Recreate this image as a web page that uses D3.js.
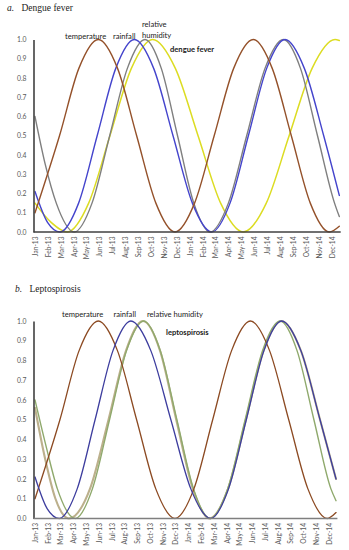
<!DOCTYPE html>
<html><head><meta charset="utf-8">
<script src="https://cdn.jsdelivr.net/npm/d3@7"></script>
<style>
html,body{margin:0;padding:0;background:#fff;}
svg{display:block;}
</style></head>
<body>
<svg id="chart" width="349" height="550"></svg>
<script>
// ---- categories / ticks ----
const monthLabels = ["Jan-13","Feb-13","Mar-13","Apr-13","May-13","Jun-13","Jul-13","Aug-13","Sep-13","Oct-13","Nov-13","Dec-13",
  "Jan-14","Feb-14","Mar-14","Apr-14","May-14","Jun-14","Jul-14","Aug-14","Sep-14","Oct-14","Nov-14","Dec-14"];
const yTickValues = [0,0.1,0.2,0.3,0.4,0.5,0.6,0.7,0.8,0.9,1.0];

// ---- panel a: dengue fever (month index, normalised value) ----
const aTemperatureM = [0, 1.9, 3.4, 4.91, 6.4, 7.88, 9.37, 10.85, 12.37, 13.89, 15.4, 16.92, 18.39, 19.87, 21.34, 22.81, 23.59];
const aTemperatureV = [0.10, 0.5, 0.85, 1, 0.85, 0.5, 0.15, 0, 0.15, 0.5, 0.85, 1, 0.85, 0.5, 0.15, 0, 0.03];
const aRainfallM = [0, 0.97, 1.94, 3.38, 4.82, 6.26, 7.7, 9.2, 10.7, 12.2, 13.7, 15.12, 16.54, 17.96, 19.38, 20.88, 22.38, 23.59];
const aRainfallV = [0.21, 0.05, 0, 0.15, 0.5, 0.85, 1, 0.85, 0.5, 0.15, 0, 0.15, 0.5, 0.85, 1, 0.85, 0.5, 0.19];
const aHumidityM = [0, 0.8, 1.65, 3.05, 4.42, 5.79, 7.16, 8.53, 9.79, 11.05, 12.31, 13.57, 14.99, 16.41, 17.83, 19.25, 20.58, 21.9, 23.22, 23.59];
const aHumidityV = [0.6, 0.35, 0.15, 0, 0.15, 0.5, 0.85, 1, 0.85, 0.5, 0.15, 0, 0.15, 0.5, 0.85, 1, 0.85, 0.5, 0.15, 0.08];
const aDengueM = [0, 1.25, 2.5, 4.16, 5.81, 7.47, 9.12, 10.88, 12.64, 14.39, 16.15, 17.93, 19.7, 21.48, 23.26, 23.59];
const aDengueV = [0.15, 0.05, 0, 0.15, 0.5, 0.85, 1, 0.85, 0.5, 0.15, 0, 0.15, 0.5, 0.85, 1, 0.995];

// ---- panel b: leptospirosis ----
const bTemperatureM = [0, 1.95, 3.45, 4.95, 6.45, 7.95, 9.45, 10.95, 12.43, 13.9, 15.38, 16.85, 18.35, 19.85, 21.35, 22.85, 23.55];
const bTemperatureV = [0.1, 0.5, 0.85, 1, 0.85, 0.5, 0.15, 0, 0.15, 0.5, 0.85, 1, 0.85, 0.5, 0.15, 0, 0.03];
const bRainfallM = [0, 0.95, 1.9, 3.3, 4.7, 6.1, 7.5, 9.06, 10.63, 12.19, 13.75, 15.14, 16.53, 17.91, 19.3, 20.8, 22.3, 23.55];
const bRainfallV = [0.21, 0.05, 0, 0.15, 0.5, 0.85, 1, 0.85, 0.5, 0.15, 0, 0.15, 0.5, 0.85, 1, 0.85, 0.5, 0.2];
const bHumidityM = [0, 0.85, 1.75, 3.15, 4.49, 5.83, 7.16, 8.5, 9.8, 11.1, 12.4, 13.7, 15.07, 16.44, 17.8, 19.17, 20.5, 21.82, 23.15, 23.55];
const bHumidityV = [0.6, 0.37, 0.15, 0, 0.15, 0.5, 0.85, 1, 0.85, 0.5, 0.15, 0, 0.15, 0.5, 0.85, 1, 0.85, 0.5, 0.15, 0.09];
const bLeptoM = [0, 0.8, 1.6, 2.65, 4.3, 5.75, 7.12, 8.45, 9.78, 11.05, 12.35, 13.65, 15.1, 16.5, 17.88, 19.28, 20.8, 22.3, 23.55];
const bLeptoV = [0.56, 0.3, 0.1, 0, 0.15, 0.5, 0.85, 1, 0.85, 0.5, 0.15, 0, 0.15, 0.5, 0.85, 1, 0.85, 0.5, 0.2];

const zip = (m, v) => m.map((d, i) => ({m: d, v: v[i]}));

const panels = [
  {
    letter: "a.", title: "Dengue fever", titleX: 7, titleNameX: 21.5, titleY: 11,
    xRange: [35, 331.7], yRange: [232, 39.5], xEnd: 23.62,
    xAxisColor: "#404040",
    series: [
      {data: zip(aDengueM, aDengueV), color: "#dcdc22", w: 1.5},
      {data: zip(aHumidityM, aHumidityV), color: "#7f7f7f", w: 1.4},
      {data: zip(aRainfallM, aRainfallV), color: "#4444cc", w: 1.4},
      {data: zip(aTemperatureM, aTemperatureV), color: "#94512a", w: 1.4}
    ],
    labels: [
      {t: "temperature", x: 65, y: 39, bold: false},
      {t: "rainfall", x: 113, y: 39, bold: false},
      {t: "relative", x: 142, y: 27, bold: false},
      {t: "humidity", x: 142, y: 37.5, bold: false},
      {t: "dengue fever", x: 170, y: 52, bold: true}
    ]
  },
  {
    letter: "b.", title: "Leptospirosis", titleX: 15, titleNameX: 29.5, titleY: 292,
    xRange: [35, 329], yRange: [518.5, 321], xEnd: 23.58,
    xAxisColor: "#7f7f7f",
    series: [
      {data: zip(bLeptoM, bLeptoV), color: "#bcb08c", w: 2.1},
      {data: zip(bHumidityM, bHumidityV), color: "#8fa96c", w: 1.4},
      {data: zip(bTemperatureM, bTemperatureV), color: "#8c4a22", w: 1.3},
      {data: zip(bRainfallM, bRainfallV), color: "#3d3d9e", w: 1.3}
    ],
    labels: [
      {t: "temperature", x: 62, y: 317, bold: false},
      {t: "rainfall", x: 113.5, y: 317, bold: false},
      {t: "relative humidity", x: 147, y: 317, bold: false},
      {t: "leptospirosis", x: 166, y: 334.5, bold: true}
    ]
  }
];

const svg = d3.select("#chart");
const sans = "Lato, 'Open Sans', sans-serif";

panels.forEach(p => {
  const x = d3.scaleLinear().domain([0, 23]).range(p.xRange);
  const y = d3.scaleLinear().domain([0, 1]).range(p.yRange);
  const g = svg.append("g");

  // title
  const tt = g.append("text").attr("x", p.titleX).attr("y", p.titleY)
    .attr("font-family", "'Liberation Serif', 'Times New Roman', serif").attr("font-size", 9.5).attr("fill", "#222");
  tt.append("tspan").attr("font-style", "italic").text(p.letter);
  g.append("text").attr("x", p.titleNameX).attr("y", p.titleY)
    .attr("font-family", "'Liberation Serif', 'Times New Roman', serif").attr("font-size", 9.5).attr("fill", "#222")
    .text(p.title);

  // lines
  const line = d3.line().x(d => x(d.m)).y(d => y(d.v)).curve(d3.curveMonotoneX);
  p.series.forEach(s => {
    g.append("path").datum(s.data).attr("d", line)
      .attr("fill", "none").attr("stroke", s.color).attr("stroke-width", s.w)
      .attr("stroke-linejoin", "round").attr("stroke-linecap", "round");
  });

  // y axis
  const yAxis = d3.axisLeft(y).tickValues(yTickValues).tickFormat(d3.format(".1f")).tickSize(0).tickPadding(7);
  const ya = g.append("g").attr("transform", `translate(${x(0) - 1.5},0)`).call(yAxis);
  ya.select(".domain").attr("stroke", "#404040").attr("stroke-width", 1.6);
  ya.selectAll("text").attr("font-family", sans).attr("font-size", 6.8).attr("fill", "#595959");

  // x axis
  const xAxis = d3.axisBottom(x).tickValues(d3.range(monthLabels.length)).tickFormat(i => monthLabels[i]).tickSize(0).tickPadding(0);
  const xa = g.append("g").attr("transform", `translate(0,${y(0)})`).call(xAxis);
  xa.select(".domain").remove();
  xa.selectAll("text")
    .attr("font-family", sans).attr("font-size", 6.6).attr("fill", "#595959")
    .attr("text-anchor", "end").attr("dy", "0.35em")
    .attr("transform", "translate(0,4.5) rotate(-90)")
    .attr("x", 0).attr("y", 0);
  g.append("line")
    .attr("x1", x(0) - 1.5).attr("x2", x(p.xEnd) + 1)
    .attr("y1", y(0)).attr("y2", y(0))
    .attr("stroke", p.xAxisColor).attr("stroke-width", 1.6);

  // series labels
  p.labels.forEach(l => {
    g.append("text").attr("x", l.x).attr("y", l.y)
      .attr("font-family", sans).attr("font-size", 7.6)
      .attr("font-weight", l.bold ? "bold" : "normal")
      .attr("fill", "#1a1a1a").text(l.t);
  });
});
</script>
</body></html>
